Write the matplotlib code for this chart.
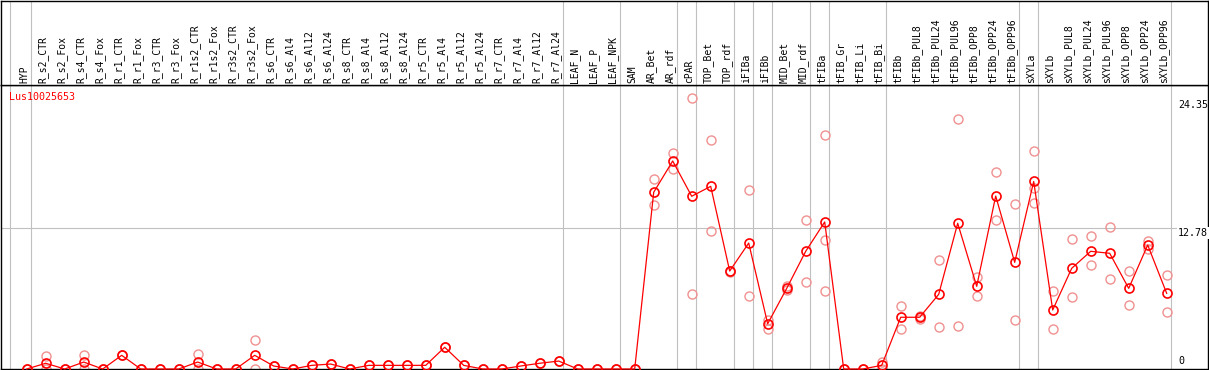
import matplotlib
matplotlib.use('Agg')
from matplotlib import pyplot as plt

# 样本名称 (列)
samples = ['HYP', 'R_s2_CTR', 'R_s2_Fox', 'R_s4_CTR', 'R_s4_Fox', 'R_r1_CTR', 'R_r1_Fox',
           'R_r3_CTR', 'R_r3_Fox', 'R_r1s2_CTR', 'R_r1s2_Fox', 'R_r3s2_CTR', 'R_r3s2_Fox',
           'R_s6_CTR', 'R_s6_Al4', 'R_s6_Al12', 'R_s6_Al24', 'R_s8_CTR', 'R_s8_Al4',
           'R_s8_Al12', 'R_s8_Al24', 'R_r5_CTR', 'R_r5_Al4', 'R_r5_Al12', 'R_r5_Al24',
           'R_r7_CTR', 'R_r7_Al4', 'R_r7_Al12', 'R_r7_Al24', 'LEAF_N', 'LEAF_P', 'LEAF_NPK',
           'SAM', 'AR_Bet', 'AR_rdf', 'cPAR', 'TOP_Bet', 'TOP_rdf', 'iFIBa', 'iFIBb',
           'MID_Bet', 'MID_rdf', 'tFIBa', 'tFIB_Gr', 'tFIB_Li', 'tFIB_Bi', 'tFIBb',
           'tFIBb_PUL8', 'tFIBb_PUL24', 'tFIBb_PUL96', 'tFIBb_OPP8', 'tFIBb_OPP24',
           'tFIBb_OPP96', 'sXYLa', 'sXYLb', 'sXYLb_PUL8', 'sXYLb_PUL24', 'sXYLb_PUL96',
           'sXYLb_OPP8', 'sXYLb_OPP24', 'sXYLb_OPP96']

# 平均表达值
means = [0, 0.52, 0, 0.63, 0, 1.24, 0, 0, 0, 0.63, 0, 0, 1.24,
         0.27, 0, 0.33, 0.45, 0, 0.33, 0.33, 0.33, 0.33, 1.97, 0.33, 0,
         0, 0.27, 0.52, 0.72, 0, 0, 0,
         0, 16.02, 18.86, 15.66, 16.56, 8.88, 11.42, 4.1, 7.31, 10.67, 13.33,
         0, 0, 0.33, 4.69, 4.69, 6.77, 13.21, 7.5, 15.68, 9.67,
         17.0, 5.35, 9.13, 10.67, 10.49, 7.31, 11.24, 6.86]

# 重复样本值
replicates = [[0, 0], [1.18, 0], [0, 0], [1.3, 0], [0, 0], [1.24, 1.3], [0, 0],
              [0, 0], [0, 0], [1.33, 0], [0, 0], [0, 0], [2.6, 0],
              [0.27, 0.27], [0, 0], [0.33, 0.33], [0.45, 0.45], [0, 0], [0.33, 0.33],
              [0.33, 0.33], [0.33, 0.33], [0.33, 0.33], [1.97, 1.97], [0.33, 0.33], [0, 0],
              [0, 0], [0.27, 0.27], [0.52, 0.52], [0.72, 0.72], [0, 0], [0, 0], [0, 0],
              [0, 0], [17.2, 14.85], [19.58, 18.1], [24.57, 6.77], [20.73, 12.51],
              [8.88, 8.8], [16.2, 6.62], [4.44, 3.6], [7.52, 7.16], [13.48, 7.89],
              [21.18, 11.7, 7.07], [0, 0], [0, 0], [0.6, 0], [5.68, 3.63], [4.56, 4.8],
              [9.85, 3.81], [22.64, 3.87], [8.37, 6.62], [17.83, 13.48], [14.92, 4.44],
              [19.76, 16.38, 15.02], [7.07, 3.63], [11.76, 6.5], [12.03, 9.4],
              [12.85, 8.13], [8.86, 5.77], [11.63, 10.85], [8.49, 5.14]]

# 每组最后一列的索引 (分组竖线)
group_ends = [0, 28, 31, 34, 35, 37, 38, 39, 41, 42, 45, 52, 53, 60]

gene = 'Lus10025653'
y_ticks = [0, 12.78, 24.35]

W, H = 1209, 370
fig = plt.figure(figsize=(W / 100, H / 100), dpi=100)

# 像素布局
left_px, right_px, head_px, bottom_px = 1, 1208, 85, 369
col0_px, col_w = 26.7, 19.0
px_per_unit = 11.03

xlim = ((left_px - col0_px) / col_w, (right_px - col0_px) / col_w)
ymax = (bottom_px - head_px) / px_per_unit

ax = fig.add_axes([left_px / W, (H - bottom_px) / H,
                   (right_px - left_px) / W, (bottom_px - head_px) / H])
hx = fig.add_axes([left_px / W, (H - head_px) / H,
                   (right_px - left_px) / W, (head_px - 1) / H])

grid_c = '#c0c0c0'
for a in (ax, hx):
    a.set_xlim(xlim)
    a.set_xticks([])
    a.set_yticks([])
    for s in a.spines.values():
        s.set_linewidth(1.0)
        s.set_color('black')
    a.axvline(-0.86, color=grid_c, lw=0.8, zorder=0)
    for g in group_ends:
        a.axvline(g + 0.21, color=grid_c, lw=0.8, zorder=0)

ax.set_ylim(0, ymax)
hx.set_ylim(0, 1)

ax.axhline(y_ticks[1], color=grid_c, lw=0.8, zorder=0)

xs = list(range(len(samples)))

# 重复值
for i, reps in enumerate(replicates):
    ax.plot([i] * len(reps), reps, 'o', ms=6.5, mfc='none', mec='#f09090',
            mew=1.0, clip_on=False, zorder=2)

ax.plot(xs, means, '-', color='red', lw=0.9, zorder=3, clip_on=False)
ax.plot(xs, means, 'o', ms=6.5, mfc='none', mec='red', mew=1.2, zorder=4, clip_on=False)

mono = 'DejaVu Sans Mono'
for i, name in enumerate(samples):
    hx.text(i - 0.14, 0.024, name, rotation=90, ha='center', va='bottom',
            fontsize=7, family=mono, color='black')

ax.text(8 / 1207, 0.958, gene, transform=ax.transAxes, color='red',
        fontsize=7.2, family=mono, va='center', ha='left')

lab_x = 60.59
ax.text(lab_x, y_ticks[2], '24.35', fontsize=7.2, family=mono, ha='left', va='top')
ax.text(lab_x, y_ticks[1], '12.78', fontsize=7.2, family=mono, ha='left', va='top',
        bbox=dict(facecolor='white', edgecolor='none', pad=0.5))
ax.text(lab_x, y_ticks[0] + 0.25, '0', fontsize=7.2, family=mono, ha='left', va='bottom')

fig.savefig('out.png', dpi=100)
